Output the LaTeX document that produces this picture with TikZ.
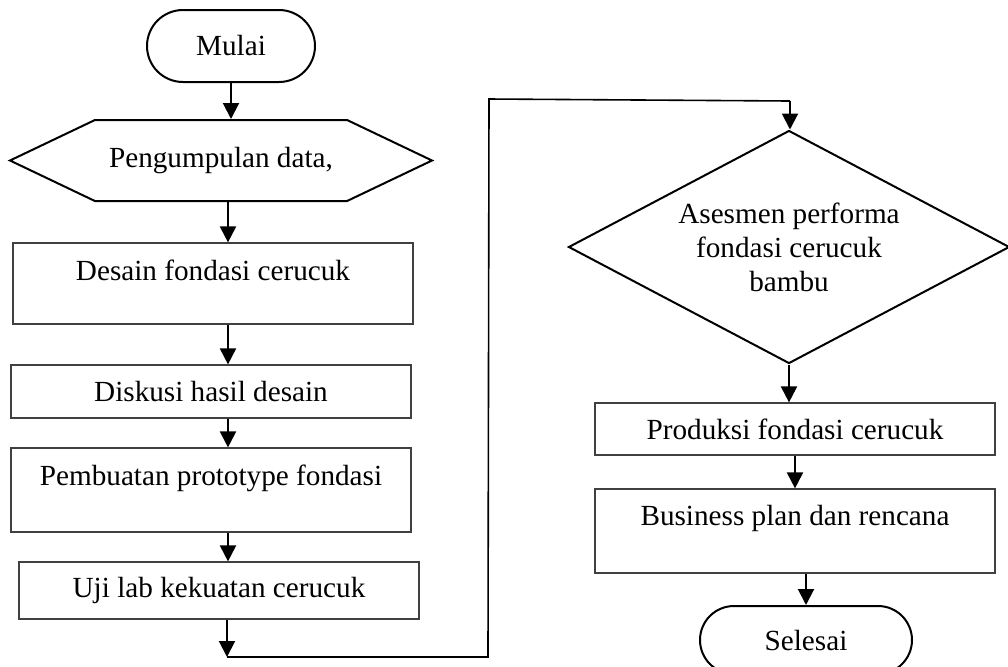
\documentclass[tikz,border=0pt]{standalone}
\usepackage{fontspec}
\setmainfont{Liberation Serif}
\usetikzlibrary{shapes.geometric, shapes.misc, shapes.symbols, arrows.meta}
\tikzset{
    base/.style={draw, align=center, inner sep=0pt, font=\fontsize{14.6}{17}\selectfont},
    terminal/.style={base, rounded rectangle, line width=1pt, minimum height=36pt},
    inputbox/.style={base, signal, signal to=west and east, signal pointer angle=51, line width=1pt},
    box/.style={base, rectangle, draw=black!75, line width=0.6pt, minimum width=200pt},
    decision/.style={base, diamond, aspect=1.9, line width=1pt},
    arrow/.style={-{Triangle[length=8pt, width=8pt]}, line width=1pt},
    line/.style={draw, line width=0.8pt}
}

\begin{document}
\begin{tikzpicture}[x=0.5pt, y=-0.5pt]
    \useasboundingbox (0,0) rectangle (1008,666);

    % Left column
    \node [terminal, minimum width=84pt] (mulai) at (231,46) {Mulai};
    \node [inputbox, minimum width=211pt, minimum height=40.5pt] (data) at (221,160.5) {Pengumpulan data,};
    \node [box, text height=18.5pt, text depth=22pt] (desain) at (213,283.5) {Desain fondasi cerucuk};
    \node [box, minimum height=26.5pt] (diskusi) at (211,391.5) {Diskusi hasil desain};
    \node [box, text height=18.5pt, text depth=23.5pt] (prototype) at (211,490) {Pembuatan prototype fondasi};
    \node [box, minimum height=28.5pt] (ujilab) at (219,590.5) {Uji lab kekuatan cerucuk};

    % Right column
    \node [decision, minimum width=220.5pt, minimum height=116.5pt] (asesmen) at (789,247) {Asesmen performa\\fondasi cerucuk\\bambu};
    \node [box, minimum height=26pt] (produksi) at (795,429) {Produksi fondasi cerucuk};
    \node [box, text height=18pt, text depth=24pt] (bisnis) at (795,531) {Business plan dan rencana};
    \node [terminal, minimum width=106pt, minimum height=34pt] (selesai) at (806,640) {Selesai};

    % Connections
    \coordinate (spine) at (228,0);
    \draw [arrow] (mulai.south) -- (data.north -| mulai.south);
    \draw [arrow] (data.south -| spine) -- (desain.north -| spine);
    \draw [arrow] (desain.south -| spine) -- (diskusi.north -| spine);
    \draw [arrow] (diskusi.south -| spine) -- (prototype.north -| spine);
    \draw [arrow] (prototype.south -| spine) -- (ujilab.north -| spine);

    % Jump to right column
    \coordinate (turn1) at (227,657);
    \coordinate (turn2) at (488,657);
    \coordinate (turn3) at (489,99);
    \coordinate (turn4) at (790,101);
    \draw [arrow] (ujilab.south -| turn1) -- (turn1);
    \draw [line] (turn1) -- (turn2) -- (turn3) -- (turn4);
    \draw [arrow] (turn4) -- (asesmen.north -| turn4);

    \draw [arrow] (asesmen.south) -- (produksi.north -| asesmen.south);
    \draw [arrow] (produksi.south) -- (bisnis.north -| produksi.south);
    \draw [arrow] (bisnis.south -| selesai.north) -- (selesai.north);
\end{tikzpicture}
\end{document}
